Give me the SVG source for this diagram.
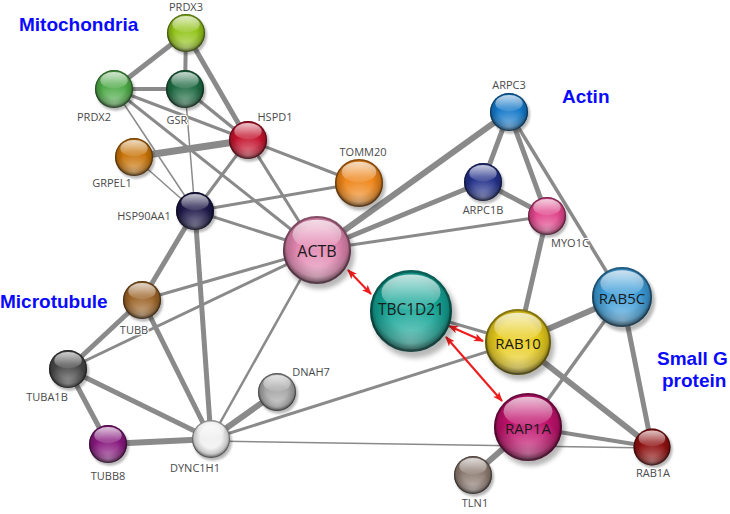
<svg xmlns="http://www.w3.org/2000/svg" xmlns:xlink="http://www.w3.org/1999/xlink" width="730" height="514" viewBox="0 0 730 514">
<style>
.e{stroke:#8a8a8a;fill:none;stroke-linecap:butt}
.lbl{font-family:"Open Sans","DejaVu Sans",sans-serif;font-size:11px;fill:#4a4a4a;text-anchor:middle;stroke:#fff;stroke-width:2.5px;paint-order:stroke;stroke-linejoin:round}
.in{font-family:"Open Sans","DejaVu Sans",sans-serif;fill:#1a1a1a;text-anchor:middle;dominant-baseline:central}
.grp{font-family:"Liberation Sans",Arial,sans-serif;font-weight:bold;font-size:19px;fill:#0a0aff}
.arr{stroke:#ee1c1c;stroke-width:2;fill:none;marker-start:url(#ah);marker-end:url(#ah)}
</style>
<defs>
<marker id="ah" viewBox="0 0 10 8" refX="9" refY="4" markerWidth="10" markerHeight="8" markerUnits="userSpaceOnUse" orient="auto-start-reverse">
<path d="M0,0 L10,4 L0,8 L2.5,4 z" fill="#ee1c1c"/>
</marker>
<filter id="blur" x="-30%" y="-30%" width="160%" height="160%"><feGaussianBlur stdDeviation="0.6"/></filter>
<radialGradient id="shade" cx="50%" cy="45%" r="52%">
<stop offset="0.55" stop-color="#000" stop-opacity="0"/>
<stop offset="0.85" stop-color="#000" stop-opacity="0.18"/>
<stop offset="1" stop-color="#000" stop-opacity="0.5"/>
</radialGradient>
<radialGradient id="glow" cx="50%" cy="90%" r="55%">
<stop offset="0" stop-color="#fff" stop-opacity="0.45"/>
<stop offset="1" stop-color="#fff" stop-opacity="0"/>
</radialGradient>
<linearGradient id="hl" x1="0" y1="0" x2="0" y2="1">
<stop offset="0" stop-color="#fff" stop-opacity="0.75"/>
<stop offset="1" stop-color="#fff" stop-opacity="0.08"/>
</linearGradient>
<circle id="shadow" cx="0.9" cy="1.3" r="10.2" fill="#000" fill-opacity="0.28" filter="url(#blur)"/>
<g id="gloss">
<circle r="10" fill="url(#glow)"/>
<circle r="10" fill="url(#shade)"/>
<ellipse cx="0" cy="-4.6" rx="7.2" ry="4.3" fill="url(#hl)"/>
<circle r="9.7" fill="none" stroke="#000" stroke-opacity="0.3" stroke-width="0.6"/>
</g>
</defs>
<rect width="730" height="514" fill="#fff"/>

<g id="connectors">
<line class="e" stroke-width="5" x1="186" y1="33" x2="114" y2="89"/>
<line class="e" stroke-width="4" x1="186" y1="33" x2="185" y2="89"/>
<line class="e" stroke-width="5" x1="186" y1="33" x2="248" y2="140"/>
<line class="e" stroke-width="4" x1="114" y1="89" x2="185" y2="89"/>
<line class="e" stroke-width="3" x1="114" y1="89" x2="248" y2="140"/>
<line class="e" stroke-width="1.5" x1="114" y1="89" x2="195" y2="211"/>
<line class="e" stroke-width="3" x1="114" y1="89" x2="317" y2="250"/>
<line class="e" stroke-width="3.5" x1="185" y1="89" x2="248" y2="140"/>
<line class="e" stroke-width="1.5" x1="185" y1="89" x2="195" y2="211"/>
<line class="e" stroke-width="7" x1="134" y1="157" x2="248" y2="140"/>
<line class="e" stroke-width="1.5" x1="134" y1="157" x2="195" y2="211"/>
<line class="e" stroke-width="3" x1="248" y1="140" x2="195" y2="211"/>
<line class="e" stroke-width="3" x1="248" y1="140" x2="317" y2="250"/>
<line class="e" stroke-width="3" x1="248" y1="140" x2="359" y2="183"/>
<line class="e" stroke-width="3" x1="195" y1="211" x2="359" y2="183"/>
<line class="e" stroke-width="3" x1="195" y1="211" x2="317" y2="250"/>
<line class="e" stroke-width="5" x1="195" y1="211" x2="142" y2="300"/>
<line class="e" stroke-width="5" x1="195" y1="211" x2="211" y2="439"/>
<line class="e" stroke-width="5" x1="142" y1="300" x2="68" y2="369"/>
<line class="e" stroke-width="3" x1="142" y1="300" x2="317" y2="250"/>
<line class="e" stroke-width="5" x1="142" y1="300" x2="211" y2="439"/>
<line class="e" stroke-width="3" x1="68" y1="369" x2="317" y2="250"/>
<line class="e" stroke-width="5" x1="68" y1="369" x2="211" y2="439"/>
<line class="e" stroke-width="5" x1="68" y1="369" x2="108" y2="444"/>
<line class="e" stroke-width="6" x1="108" y1="444" x2="211" y2="439"/>
<line class="e" stroke-width="2.5" x1="211" y1="439" x2="317" y2="250"/>
<line class="e" stroke-width="6" x1="211" y1="439" x2="277" y2="392"/>
<line class="e" stroke-width="3" x1="211" y1="439" x2="518" y2="342"/>
<line class="e" stroke-width="1.5" x1="211" y1="441" x2="652" y2="448"/>
<line class="e" stroke-width="6" x1="317" y1="250" x2="509" y2="112"/>
<line class="e" stroke-width="5" x1="317" y1="250" x2="483" y2="182"/>
<line class="e" stroke-width="3" x1="317" y1="250" x2="547" y2="216"/>
<line class="e" stroke-width="5" x1="509" y1="112" x2="483" y2="182"/>
<line class="e" stroke-width="5" x1="509" y1="112" x2="547" y2="216"/>
<line class="e" stroke-width="3.5" x1="509" y1="112" x2="622" y2="297"/>
<line class="e" stroke-width="5" x1="483" y1="182" x2="547" y2="216"/>
<line class="e" stroke-width="5" x1="547" y1="216" x2="518" y2="342"/>
<line class="e" stroke-width="3" x1="411" y1="311" x2="518" y2="342"/>
<line class="e" stroke-width="6" x1="518" y1="342" x2="622" y2="297"/>
<line class="e" stroke-width="6" x1="518" y1="342" x2="652" y2="447"/>
<line class="e" stroke-width="3.5" x1="622" y1="297" x2="528" y2="427"/>
<line class="e" stroke-width="5" x1="622" y1="297" x2="652" y2="447"/>
<line class="e" stroke-width="4" x1="528" y1="427" x2="652" y2="447"/>
<line class="e" stroke-width="6" x1="528" y1="427" x2="473" y2="475"/>
</g>

<g id="arrows">
<line class="arr" x1="348" y1="270" x2="371" y2="294"/>
<line class="arr" x1="449" y1="326" x2="483" y2="341"/>
<line class="arr" x1="446" y1="337" x2="502" y2="401"/>
</g>

<g id="PRDX3" transform="translate(186,33)"><g transform="scale(1.9)"><use href="#shadow"/><circle r="10" fill="#93c41a"/><use href="#gloss"/></g><text class="lbl" x="0" y="-22" style="stroke-width:1px">PRDX3</text></g>
<g id="PRDX2" transform="translate(114,89)"><g transform="scale(1.9)"><use href="#shadow"/><circle r="10" fill="#4eaa48"/><use href="#gloss"/></g><text class="lbl" x="-20" y="32">PRDX2</text></g>
<g id="GSR" transform="translate(185,89)"><g transform="scale(1.9)"><use href="#shadow"/><circle r="10" fill="#1e6a42"/><use href="#gloss"/></g><text class="lbl" x="-8" y="35">GSR</text></g>
<g id="HSPD1" transform="translate(248,140)"><g transform="scale(1.9)"><use href="#shadow"/><circle r="10" fill="#c4142e"/><use href="#gloss"/></g><text class="lbl" x="27" y="-19">HSPD1</text></g>
<g id="GRPEL1" transform="translate(134,157)"><g transform="scale(1.9)"><use href="#shadow"/><circle r="10" fill="#c87408"/><use href="#gloss"/></g><text class="lbl" x="-22" y="30">GRPEL1</text></g>
<g id="HSP90AA1" transform="translate(195,211)"><g transform="scale(1.9)"><use href="#shadow"/><circle r="10" fill="#1c1848"/><use href="#gloss"/></g><text class="lbl" x="-51" y="9">HSP90AA1</text></g>
<g id="TOMM20" transform="translate(359,183)"><g transform="scale(2.4)"><use href="#shadow"/><circle r="10" fill="#ee8518"/><use href="#gloss"/></g><text class="lbl" x="4" y="-27">TOMM20</text></g>
<g id="ACTB" transform="translate(317,250)"><g transform="scale(3.4)"><use href="#shadow"/><circle r="10" fill="#e286b0"/><use href="#gloss"/></g><text class="in" x="0" y="1" font-size="16">ACTB</text></g>
<g id="ARPC3" transform="translate(509,112)"><g transform="scale(1.9)"><use href="#shadow"/><circle r="10" fill="#1478c8"/><use href="#gloss"/></g><text class="lbl" x="0" y="-23">ARPC3</text></g>
<g id="ARPC1B" transform="translate(483,182)"><g transform="scale(1.9)"><use href="#shadow"/><circle r="10" fill="#23318a"/><use href="#gloss"/></g><text class="lbl" x="0" y="32">ARPC1B</text></g>
<g id="MYO1C" transform="translate(547,216)"><g transform="scale(1.9)"><use href="#shadow"/><circle r="10" fill="#e0448a"/><use href="#gloss"/></g><text class="lbl" x="23" y="31">MYO1C</text></g>
<g id="TUBB" transform="translate(142,300)"><g transform="scale(1.9)"><use href="#shadow"/><circle r="10" fill="#9c6428"/><use href="#gloss"/></g><text class="lbl" x="-8" y="34">TUBB</text></g>
<g id="TUBA1B" transform="translate(68,369)"><g transform="scale(1.9)"><use href="#shadow"/><circle r="10" fill="#484848"/><use href="#gloss"/></g><text class="lbl" x="-21" y="32">TUBA1B</text></g>
<g id="TUBB8" transform="translate(108,444)"><g transform="scale(1.9)"><use href="#shadow"/><circle r="10" fill="#87187e"/><use href="#gloss"/></g><text class="lbl" x="0" y="36">TUBB8</text></g>
<g id="DYNC1H1" transform="translate(211,439)"><g transform="scale(1.9)"><use href="#shadow"/><circle r="10" fill="#efefef"/><use href="#gloss"/></g><text class="lbl" x="-16" y="33">DYNC1H1</text></g>
<g id="DNAH7" transform="translate(277,392)"><g transform="scale(1.9)"><use href="#shadow"/><circle r="10" fill="#a6a6a6"/><use href="#gloss"/></g><text class="lbl" x="34" y="-16">DNAH7</text></g>
<g id="TBC1D21" transform="translate(411,311)"><g transform="scale(4.1)"><use href="#shadow"/><circle r="10" fill="#14a596"/><use href="#gloss"/></g><text class="in" x="0" y="-2" font-size="15.5">TBC1D21</text></g>
<g id="RAB10" transform="translate(518,342)"><g transform="scale(3.3)"><use href="#shadow"/><circle r="10" fill="#e8cc1c"/><use href="#gloss"/></g><text class="in" x="0" y="1" font-size="15">RAB10</text></g>
<g id="RAB5C" transform="translate(622,297)"><g transform="scale(3.0)"><use href="#shadow"/><circle r="10" fill="#3c9cd8"/><use href="#gloss"/></g><text class="in" x="0" y="1" font-size="15">RAB5C</text></g>
<g id="RAP1A" transform="translate(528,427)"><g transform="scale(3.4)"><use href="#shadow"/><circle r="10" fill="#c0116c"/><use href="#gloss"/></g><text class="in" x="0" y="1" font-size="15">RAP1A</text></g>
<g id="RAB1A" transform="translate(652,447)"><g transform="scale(1.85)"><use href="#shadow"/><circle r="10" fill="#8e1010"/><use href="#gloss"/></g><text class="lbl" x="1" y="30">RAB1A</text></g>
<g id="TLN1" transform="translate(473,475)"><g transform="scale(1.9)"><use href="#shadow"/><circle r="10" fill="#8c7a70"/><use href="#gloss"/></g><text class="lbl" x="2" y="32">TLN1</text></g>

<g id="groups">
<text class="grp" x="657" y="365" font-size="17.5">Small G</text>
<text class="grp" x="662" y="387" font-size="17.5">protein</text>
<text class="grp" x="19" y="31">Mitochondria</text>
<text class="grp" x="562" y="103">Actin</text>
<text class="grp" x="0" y="308">Microtubule</text>
</g>
</svg>
